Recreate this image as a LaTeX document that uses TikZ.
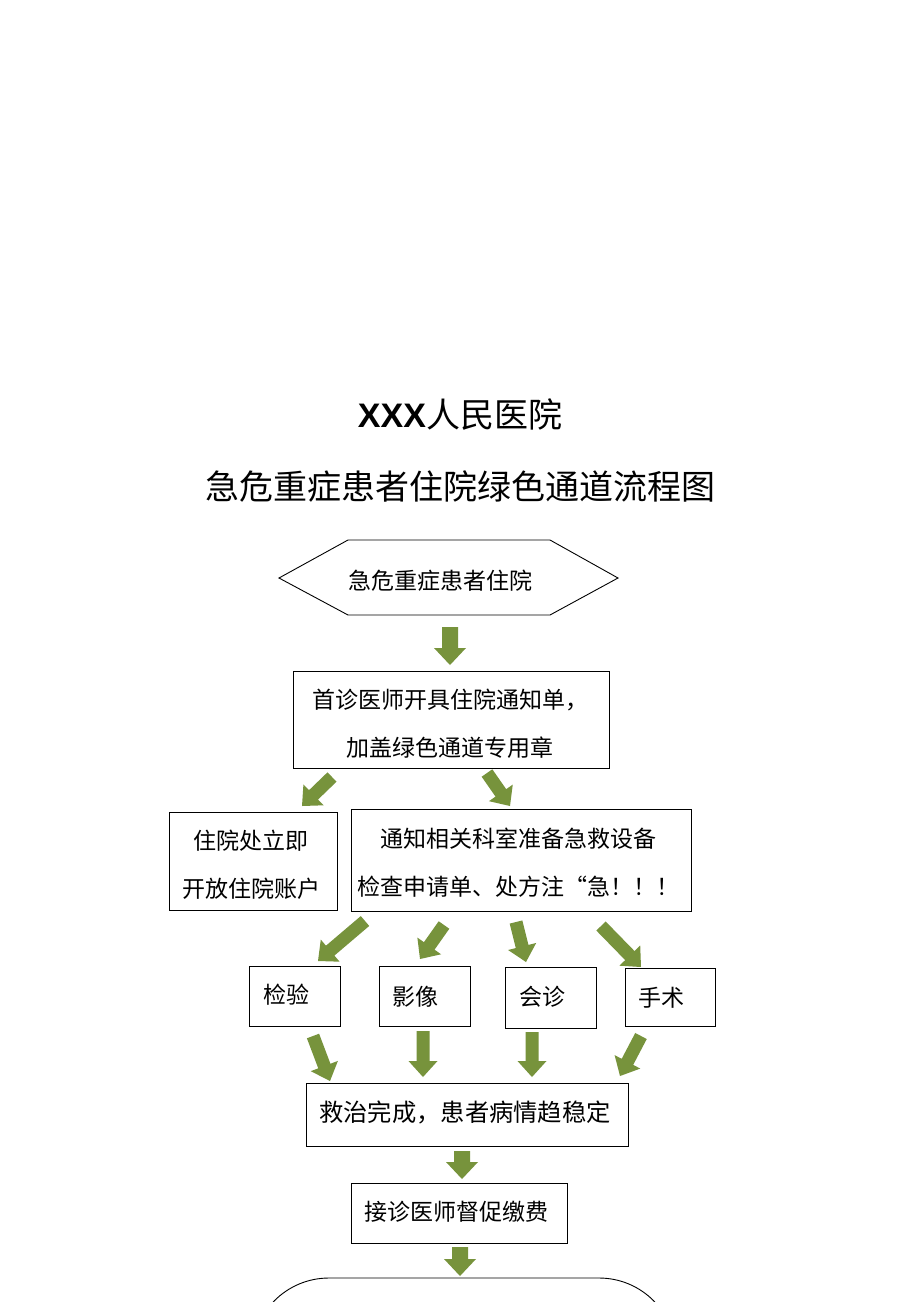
\documentclass[tikz,border=0pt]{standalone}
\usepackage{fontspec}
\setmainfont{Liberation Sans}
\newfontfamily\cjk{Noto Sans CJK SC}
\usetikzlibrary{calc}
\definecolor{arrowgreen}{RGB}{119,147,60}
% #1 start, #2 end, #3 half shaft width, #4 half head width, #5 head length
\newcommand\garrow[5]{%
  \coordinate (gh) at ($(#2)!#5pt!(#1)$);
  \fill[arrowgreen] ($(#1)!#3pt!90:(#2)$) -- ($(gh)!#3pt!-90:(#1)$) -- ($(gh)!#4pt!-90:(#1)$) -- (#2) -- ($(gh)!#4pt!90:(#1)$) -- ($(gh)!#3pt!90:(#1)$) -- ($(#1)!#3pt!-90:(#2)$) -- cycle;}
\newcommand\varrow[2]{\garrow{#1}{#2}{8}{16}{17}}
\newcommand\darrow[2]{\garrow{#1}{#2}{6.5}{14.5}{16}}
\begin{document}
\begin{tikzpicture}[x=1pt,y=-1pt,
  box/.style={draw=black, line width=0.9pt, rectangle, inner sep=0pt},
  txt/.style={font=\fontsize{23}{48}\selectfont\cjk, align=center, inner sep=0pt},
  ttl/.style={font=\fontsize{34}{40}\selectfont, inner sep=0pt}]
\clip (0,0) rectangle (920,1302);
\fill[white] (0,0) rectangle (920,1302);
% titles
\node[ttl] (t1) at (460,415) {\textbf{XXX}\cjk 人民医院};
\node[ttl] (t2) at (460,487) {\cjk 急危重症患者住院绿色通道流程图};
% hexagon
\draw[line width=0.9pt] (279,578) -- (348,540) -- (550,540) -- (618,578) -- (550,615) -- (348,615) -- cycle;
\node[txt] (s) at (440,581) {急危重症患者住院};
% boxes
\node[box, minimum width=316pt, minimum height=97pt] (b2) at (451,719.5) {};
\node[txt] (b2t) at (450,724) {首诊医师开具住院通知单，\\加盖绿色通道专用章};
\node[box, minimum width=168pt, minimum height=98pt] (b3l) at (253,861) {};
\node[txt] (b3lt) at (251,865) {住院处立即\\开放住院账户};
\node[box, minimum width=340pt, minimum height=102pt] (b3r) at (521,860) {};
\node[txt] (b3rt) at (518,863) {通知相关科室准备急救设备\\检查申请单、处方注“急！！！};
\node[box, minimum width=91pt, minimum height=60pt] (c1) at (294.5,996) {};
\node[txt] (c1t) at (286,995) {检验};
\node[box, minimum width=91pt, minimum height=60pt] (c2) at (424.5,996) {};
\node[txt] (c2t) at (415,997) {影像};
\node[box, minimum width=91pt, minimum height=61pt] (c3) at (550.5,997.5) {};
\node[txt] (c3t) at (542,997) {会诊};
\node[box, minimum width=90pt, minimum height=58pt] (c4) at (670,997) {};
\node[txt] (c4t) at (661,998) {手术};
\node[box, minimum width=322pt, minimum height=63pt] (d) at (467,1114.5) {};
\node[txt, font=\fontsize{24.3}{48}\selectfont\cjk] (dt) at (465,1112) {救治完成，患者病情趋稳定};
\node[box, minimum width=216pt, minimum height=60pt] (e) at (459,1213) {};
\node[txt] (et) at (456,1212) {接诊医师督促缴费};
\node[box, rounded corners=77pt, minimum width=424pt, minimum height=170pt] (f) at (464,1363) {};
% arrow end points
\coordinate (a1s) at (450,627);  \coordinate (a1e) at (450,665);
\coordinate (a2s) at (332,777);  \coordinate (a2e) at (302,806);
\coordinate (a3s) at (487,773);  \coordinate (a3e) at (510,806);
\coordinate (a4s) at (365,921);  \coordinate (a4e) at (318,961);
\coordinate (a5s) at (444,925);  \coordinate (a5e) at (420,959);
\coordinate (a6s) at (516,922);  \coordinate (a6e) at (526,962);
\coordinate (a7s) at (601,926);  \coordinate (a7e) at (641,967);
\coordinate (a8s) at (313,1036); \coordinate (a8e) at (330,1081);
\coordinate (a9s) at (423,1031); \coordinate (a9e) at (423,1077);
\coordinate (a10s) at (532,1032); \coordinate (a10e) at (532,1077);
\coordinate (a11s) at (641,1036); \coordinate (a11e) at (620,1076);
\coordinate (a12s) at (462,1151); \coordinate (a12e) at (462,1179);
\coordinate (a13s) at (460,1247); \coordinate (a13e) at (460,1276);
\varrow{a1s}{a1e}
\darrow{a2s}{a2e}
\darrow{a3s}{a3e}
\darrow{a4s}{a4e}
\darrow{a5s}{a5e}
\darrow{a6s}{a6e}
\darrow{a7s}{a7e}
\darrow{a8s}{a8e}
\darrow{a9s}{a9e}
\darrow{a10s}{a10e}
\darrow{a11s}{a11e}
\varrow{a12s}{a12e}
\varrow{a13s}{a13e}
\end{tikzpicture}
\end{document}
